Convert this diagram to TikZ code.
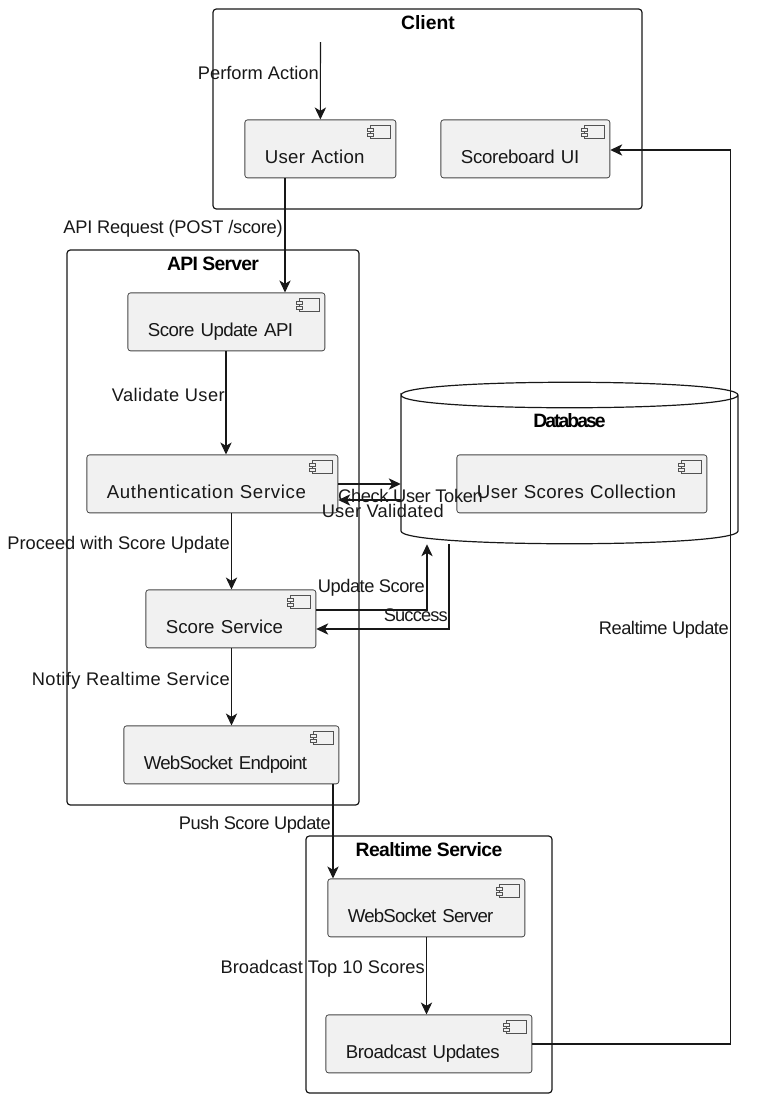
\documentclass[tikz,border=0pt]{standalone}
\usepackage{fontspec}
\setmainfont{Liberation Sans}
\usepackage{xcolor}
\usetikzlibrary{arrows.meta}
\definecolor{compfill}{HTML}{F1F1F1}
\definecolor{inkline}{HTML}{181818}
\newcommand{\spc}[2]{{\addfontfeature{LetterSpace=#1}#2}}
\tikzset{
  comp/.style={draw=inkline!80,line width=.6pt,fill=compfill,rounded corners=2pt,anchor=north west,
    xshift=-.4pt,yshift=.4pt,
    inner xsep=15pt,inner ysep=0pt,text height=33pt,text depth=10.5pt,align=left,
    font=\fontsize{14}{16}\selectfont,text=inkline},
  group/.style={draw=inkline,line width=.9pt,rounded corners=2.5pt},
  grouptitle/.style={font=\fontsize{14.5}{16}\selectfont\bfseries,inner sep=0pt,text=black},
  lbl/.style={anchor=base east,inner sep=0pt,font=\fontsize{13.7}{16}\selectfont,text=inkline},
  conn/.style={draw=inkline,line width=.8pt,-{Stealth[length=9pt,width=8.5pt,inset=2.5pt]}},
  iconline/.style={draw=inkline!75,line width=.5pt,fill=compfill}
}
\begin{document}
\begin{tikzpicture}[x=.75pt,y=-.75pt]
\useasboundingbox (0,0) rectangle (761,1100);

% groups
\draw[group] (213,9) rectangle (642,209);
\draw[group] (67,250) rectangle (359,805);
\draw[group] (306,836) rectangle (552,1093);
\node[grouptitle] (clienttitle) at (428,23) {Client};
\node[grouptitle] (apititle) at (213,264) {\spc{-4}{API Server}};
\node[grouptitle] (realtimetitle) at (429,850) {\spc{-3}{Realtime Service}};

% database
\draw[line width=.9pt,draw=inkline] (401,395) .. controls (401,378) and (738,378) .. (738,395)
  .. controls (738,412) and (401,412) .. (401,395) -- (401,531)
  .. controls (401,548) and (738,548) .. (738,531) -- (738,395);
\node[inner sep=0pt,minimum width=252.75pt,minimum height=111.75pt] (database) at (569.5,469.5) {};
\node[grouptitle] (dbtitle) at (569.5,421) {\spc{-10}{Database}};

% components
\node[comp,text width=83.25pt] (useraction) at (245,120) {\spc{1.5}{User Action}};
\node[comp,text width=96.75pt] (scoreboard) at (441,120) {\spc{-1.6}{Scoreboard UI}};
\node[comp,text width=117.75pt] (scoreapi) at (128,293) {\spc{-3}{Score Update API}};
\node[comp,text width=158.25pt] (authsvc) at (87,455) {\spc{3.5}{Authentication Service}};
\node[comp,text width=97.5pt] (scoresvc) at (146,590) {Score Service};
\node[comp,text width=131.25pt] (wsendpoint) at (124,726) {\spc{-4.2}{WebSocket Endpoint}};
\node[comp,text width=117.75pt] (wsserver) at (328,879) {\spc{-4.5}{WebSocket Server}};
\node[comp,text width=124.5pt] (broadcast) at (326,1015) {\spc{-2.3}{Broadcast Updates}};
\node[comp,text width=157.5pt] (usercoll) at (457,455) {\spc{2.3}{User Scores Collection}};

% component icons
\foreach \n in {useraction,scoreboard,scoreapi,authsvc,scoresvc,wsendpoint,wsserver,broadcast,usercoll}{
  \draw[iconline] ([shift={(-26,6)}]\n.north east) rectangle ++(20,13);
  \draw[iconline] ([shift={(-29,9)}]\n.north east) rectangle ++(6,3);
  \draw[iconline] ([shift={(-29,14)}]\n.north east) rectangle ++(6,3);
}

% connectors
\coordinate (actionstart) at (320.5,42);
\draw[conn] (actionstart) -- (useraction.north);
\draw[conn] (useraction.south -| 285,0) -- (scoreapi.north -| 285,0);
\draw[conn] (scoreapi.south -| 226,0) -- (authsvc.north -| 226,0);
\draw[conn] (authsvc.east |- 0,484) -- (database.west |- 0,484);
\draw[conn] (database.west |- 0,500) -- (authsvc.east |- 0,500);
\draw[conn] (authsvc.south -| 231.5,0) -- (scoresvc.north -| 231.5,0);
\draw[conn] (scoresvc.east |- 0,610) -| (database.south -| 427,0);
\draw[conn] (database.south -| 449,0) |- (scoresvc.east |- 0,629);
\draw[conn] (scoresvc.south -| 231.5,0) -- (wsendpoint.north -| 231.5,0);
\draw[conn] (wsendpoint.south -| 333,0) -- (wsserver.north -| 333,0);
\draw[conn] (wsserver.south -| 426.5,0) -- (broadcast.north -| 426.5,0);
\draw[conn] (broadcast.east |- 0,1044) -- (730.5,1044) -- (730.5,150) -- (scoreboard.east |- 0,150);

% labels
\node[lbl] (lblperform) at (319,79) {Perform Action};
\node[lbl] (lblrequest) at (283,233) {\spc{-1.3}{API Request (POST /score)}};
\node[lbl] (lblvalidate) at (225,401) {\spc{2.3}{Validate User}};
\node[lbl] (lbltoken) at (483,502) {\spc{-2}{Check User Token}};
\node[lbl] (lblvalidated) at (444,517) {\spc{1.6}{User Validated}};
\node[lbl] (lblproceed) at (230,549) {Proceed with Score Update};
\node[lbl] (lblupdate) at (425,592) {\spc{-2.7}{Update Score}};
\node[lbl] (lblsuccess) at (448,621) {\spc{-4.7}{Success}};
\node[lbl] (lblrealtime) at (729,634) {\spc{-2.6}{Realtime Update}};
\node[lbl] (lblnotify) at (230,685) {\spc{2.2}{Notify Realtime Service}};
\node[lbl] (lblpush) at (331,829) {\spc{-2.6}{Push Score Update}};
\node[lbl] (lblbroadcast) at (425,973) {Broadcast Top 10 Scores};

\end{tikzpicture}
\end{document}
